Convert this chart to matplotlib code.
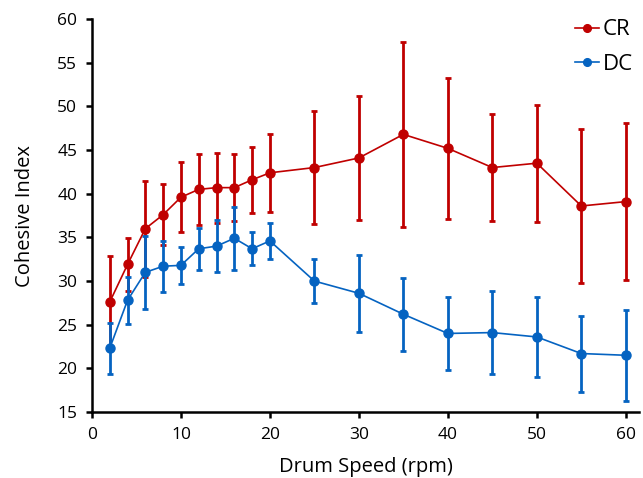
import matplotlib
matplotlib.use("Agg")
import matplotlib.pyplot as plt

plt.rcParams['font.family'] = ['Open Sans', 'DejaVu Sans']

speed = [2, 4, 6, 8, 10, 12, 14, 16, 18, 20, 25, 30, 35, 40, 45, 50, 55, 60]

cr_mean = [27.6, 31.9, 36.0, 37.6, 39.6, 40.5, 40.7, 40.7, 41.6, 42.4,
           43.0, 44.1, 46.8, 45.2, 43.0, 43.5, 38.6, 39.1]
cr_err = [5.3, 3.0, 5.5, 3.5, 4.0, 4.1, 4.0, 3.8, 3.8, 4.5,
          6.5, 7.1, 10.6, 8.1, 6.1, 6.7, 8.8, 9.0]

dc_mean = [22.3, 27.8, 31.0, 31.7, 31.8, 33.7, 34.0, 34.9, 33.7, 34.6,
           30.0, 28.6, 26.2, 24.0, 24.1, 23.6, 21.7, 21.5]
dc_err = [2.9, 2.7, 4.2, 2.9, 2.15, 2.4, 3.0, 3.6, 1.9, 2.1,
          2.55, 4.4, 4.2, 4.2, 4.8, 4.6, 4.35, 5.2]

red = '#C00000'
blue = '#0563C1'

fig = plt.figure(figsize=(6.43, 4.78), dpi=100)
ax = fig.add_axes([0.143, 0.138, 0.851, 0.822])

ax.errorbar(speed, cr_mean, yerr=cr_err, color=red, marker='o', markersize=6.5,
            linewidth=1.2, elinewidth=2, capsize=2.5, capthick=2, label='CR')
ax.errorbar(speed, dc_mean, yerr=dc_err, color=blue, marker='o', markersize=6.5,
            linewidth=1.2, elinewidth=2, capsize=2.5, capthick=2, label='DC')

ax.set_xlim(0, 61.5)
ax.set_ylim(15, 60)
ax.set_xticks(range(0, 61, 10))
ax.set_yticks(range(15, 61, 5))
ax.tick_params(labelsize=12.5, direction='out', length=4.5, width=1.8, pad=6)
for s in ['top', 'right']:
    ax.spines[s].set_visible(False)
for s in ['left', 'bottom']:
    ax.spines[s].set_linewidth(1.8)

ax.set_xlabel('Drum Speed (rpm)', fontsize=14.5, labelpad=10)
ax.set_ylabel('Cohesive Index', fontsize=14.5, labelpad=16)

h, l = ax.get_legend_handles_labels()
ax.legend([x[0] for x in h], l, loc='upper right', bbox_to_anchor=(1.025, 1.05),
          frameon=False, fontsize=16, handlelength=1.1, handletextpad=0.15,
          labelspacing=0.6, markerscale=0.85)

fig.savefig('out.png', dpi=100)
